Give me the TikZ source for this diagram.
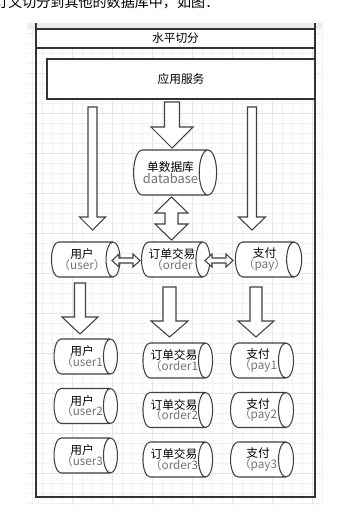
\documentclass[tikz,border=0pt]{standalone}
\usepackage{fontspec}
\setmainfont{Noto Sans CJK SC}
\usetikzlibrary{shapes.geometric}

\tikzset{
  gridminor/.style={black!5, line width=0.3pt},
  gridmajor/.style={black!10, line width=0.3pt},
  frameline/.style={draw=black!80, line width=0.9pt},
  box/.style={draw=black!80, line width=0.9pt, fill=white, inner sep=0pt,
    font=\fontsize{10}{12}\selectfont},
  db/.style={cylinder, draw=black!75, line width=0.9pt, fill=white,
    inner sep=0pt, align=center, font=\fontsize{10}{11}\selectfont},
  blockarrow/.style={draw=black!75, line width=0.9pt, fill=white, line join=miter}
}

% down block arrow: centre x, top y, tip y, shaft half width, head half width, head length
\newcommand{\vblock}[6]{%
  \pgfmathsetmacro\hy{#3-#6}
  \draw[blockarrow] (#1-#4,#2) -- (#1+#4,#2) -- (#1+#4,\hy) -- (#1+#5,\hy)
    -- (#1,#3) -- (#1-#5,\hy) -- (#1-#4,\hy) -- cycle;}
% two-headed vertical block arrow: centre x, top y, bottom y, shaft half width, head half width, head length
\newcommand{\vdouble}[6]{%
  \pgfmathsetmacro\ha{#2+#6}
  \pgfmathsetmacro\hb{#3-#6}
  \draw[blockarrow] (#1,#2) -- (#1+#5,\ha) -- (#1+#4,\ha) -- (#1+#4,\hb) -- (#1+#5,\hb)
    -- (#1,#3) -- (#1-#5,\hb) -- (#1-#4,\hb) -- (#1-#4,\ha) -- (#1-#5,\ha) -- cycle;}
% two-headed horizontal block arrow: left x, right x, centre y, shaft half height, head half height, head length
\newcommand{\hdouble}[6]{%
  \pgfmathsetmacro\ha{#1+#6}
  \pgfmathsetmacro\hb{#2-#6}
  \draw[blockarrow] (#1,#3) -- (\ha,#3-#5) -- (\ha,#3-#4) -- (\hb,#3-#4) -- (\hb,#3-#5)
    -- (#2,#3) -- (\hb,#3+#5) -- (\hb,#3+#4) -- (\ha,#3+#4) -- (\ha,#3+#5) -- cycle;}

\newcommand{\sub}[1]{{\color{black!55}#1}}

\begin{document}
\begin{tikzpicture}[x=0.03cm, y=-0.03cm]
  \useasboundingbox (0,0) rectangle (338,522);

  % caption line, cut off at the top of the screenshot
  \node[anchor=base west, inner sep=0pt, font=\fontsize{12}{14}\selectfont] (caption)
    at (-6,7) {订义切分到其他的数据库中，如图：};

  % background grid
  \foreach \x in {32,42,...,322} {
    \draw[gridminor] (\x,23) -- (\x,505);
  }
  \foreach \y in {33,43,...,503} {
    \draw[gridminor] (27,\y) -- (322,\y);
  }
  \foreach \x in {72,112,...,312} {
    \draw[gridmajor] (\x,23) -- (\x,505);
  }
  \foreach \y in {33,73,...,503} {
    \draw[gridmajor] (27,\y) -- (322,\y);
  }
  \fill[black!7] (27,23) rectangle (322,29);

  % outer frame and title band
  \draw[frameline] (36,23) -- (36,497) -- (315,497) -- (315,23);
  \node[box, minimum width=8.37cm, minimum height=0.57cm] (title) at (175.5,38.5) {水平切分};
  \node[box, minimum width=8.04cm, minimum height=1.2cm] (app) at (181,79) {应用服务};

  % single database
  \node[db, aspect=0.8, minimum height=2.49cm, minimum width=1.35cm] (single) at (170.5,172.5)
    {单数据库\\[-1pt]\sub{\fontsize{11}{11}\selectfont database}};

  % vertical split
  \node[db, aspect=0.65, minimum height=1.86cm, minimum width=1.05cm] (user) at (82,259.5) {用户\\[-2pt]\sub{（user）}};
  \node[db, aspect=0.65, minimum height=1.86cm, minimum width=1.05cm] (order) at (172,259.5) {订单交易\\[-2pt]\sub{（order}};
  \node[db, aspect=0.65, minimum height=1.89cm, minimum width=1.05cm] (pay) at (264.5,259.5) {支付\\[-2pt]\sub{（pay）}};

  % horizontal split
  \foreach \i/\uy/\oy in {1/356.5/360.5, 2/406/410, 3/455.5/459.5} {
    \node[db, aspect=0.65, minimum height=1.86cm, minimum width=1.05cm] (user\i) at (82,\uy) {用户\\[-2pt]\sub{（user\i}};
    \node[db, aspect=0.65, minimum height=1.98cm, minimum width=1.05cm] (order\i) at (174,\oy) {订单交易\\[-2pt]\sub{（order\i}};
    \node[db, aspect=0.65, minimum height=1.89cm, minimum width=1.05cm] (pay\i) at (258,\oy) {支付\\[-2pt]\sub{（pay\i}};
  }

  % block arrows
  \vblock{92.5}{107}{230}{4.5}{13}{13}
  \vblock{172}{102}{148}{7.5}{21}{21}
  \vblock{252}{107}{230}{4.5}{13.5}{13}
  \vdouble{171.5}{197}{240}{6.5}{16.5}{16}
  \hdouble{112}{140}{260.5}{2.5}{6.5}{7}
  \hdouble{205}{233}{260.5}{2.5}{6.5}{7}
  \vblock{80}{283}{334}{5.5}{18}{17}
  \vblock{169.5}{287}{337}{6.5}{18.5}{16}
  \vblock{256}{287}{337}{6}{18}{16}
\end{tikzpicture}
\end{document}
